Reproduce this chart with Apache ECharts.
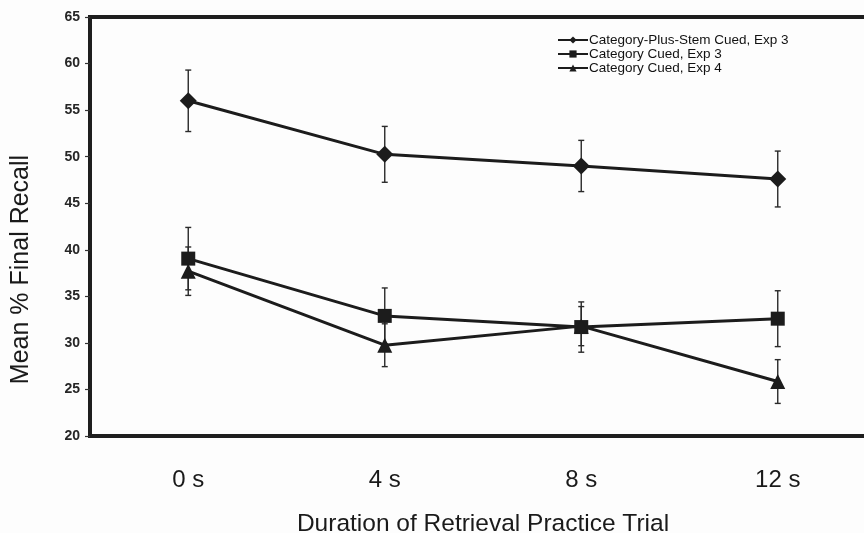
<!DOCTYPE html>
<html>
<head>
<meta charset="utf-8">
<script src="https://cdn.jsdelivr.net/npm/echarts@6/dist/echarts.min.js"></script>
<style>
html,body{margin:0;padding:0;background:#fdfdfd;overflow:hidden;width:864px;height:533px;}
#chart{width:876px;height:533px;}
</style>
</head>
<body>
<div id="chart"></div>
<script>
const categories = ['0 s', '4 s', '8 s', '12 s'];
const seriesNames = ['Category-Plus-Stem Cued, Exp 3', 'Category Cued, Exp 3', 'Category Cued, Exp 4'];
const stemExp3 = [56.0, 50.25, 49.0, 47.6];
const stemExp3Err = [3.3, 3.0, 2.75, 3.0];
const catExp3 = [39.05, 32.9, 31.7, 32.6];
const catExp3Err = [3.35, 3.0, 2.7, 3.0];
const catExp4 = [37.7, 29.75, 31.8, 25.85];
const catExp4Err = [2.6, 2.3, 2.1, 2.35];
const yTicks = [20, 25, 30, 35, 40, 45, 50, 55, 60, 65];

const FONT = '"Liberation Sans", Arial, sans-serif';
const INK = '#1c1c1c';

function errData(vals, errs) {
  return vals.map((v, i) => [i, v - errs[i], v + errs[i]]);
}
function errSeries(name, vals, errs) {
  return {
    type: 'custom',
    name: name,
    data: errData(vals, errs),
    encode: { x: 0, y: [1, 2] },
    z: 1,
    silent: true,
    renderItem: function (params, api) {
      const x = api.value(0);
      const lo = api.coord([x, api.value(1)]);
      const hi = api.coord([x, api.value(2)]);
      const w = 3;
      const st = { stroke: '#2a2a2a', lineWidth: 1.4 };
      return {
        type: 'group',
        children: [
          { type: 'line', shape: { x1: lo[0], y1: lo[1], x2: hi[0], y2: hi[1] }, style: st },
          { type: 'line', shape: { x1: lo[0] - w, y1: lo[1], x2: lo[0] + w, y2: lo[1] }, style: st },
          { type: 'line', shape: { x1: hi[0] - w, y1: hi[1], x2: hi[0] + w, y2: hi[1] }, style: st }
        ]
      };
    }
  };
}
function lineSeries(name, vals, symbol, size) {
  return {
    type: 'line',
    name: name,
    data: vals,
    symbol: symbol,
    symbolSize: size,
    z: 3,
    lineStyle: { color: INK, width: 3 },
    itemStyle: { color: INK, borderColor: INK, borderWidth: 0 },
    emphasis: { disabled: true }
  };
}

const chart = echarts.init(document.getElementById('chart'), null, { renderer: 'canvas' });
chart.setOption({
  backgroundColor: '#fdfdfd',
  animation: false,
  textStyle: { fontFamily: FONT },
  grid: {
    left: 90, top: 17, right: 0, bottom: 97,
    outerBoundsMode: 'none',
    containLabel: false,
    show: true, borderWidth: 4, borderColor: '#1e1e1e', backgroundColor: '#fdfdfd'
  },
  legend: {
    data: seriesNames,
    orient: 'vertical',
    left: 552, top: 28,
    itemWidth: 30, itemHeight: 9, itemGap: 0,
    textStyle: { fontFamily: FONT, fontSize: 13.5, color: '#111', lineHeight: 12, padding: [0, 0, 0, -4] },
    selectedMode: false
  },
  xAxis: {
    type: 'category',
    data: categories,
    boundaryGap: true,
    axisLine: { show: true, lineStyle: { color: '#1e1e1e', width: 4 } },
    axisTick: { show: false },
    axisLabel: { fontFamily: FONT, fontSize: 24, color: '#1a1a1a', margin: 32 },
    name: 'Duration of Retrieval Practice Trial',
    nameLocation: 'middle',
    nameGap: 76,
    nameTextStyle: { fontFamily: FONT, fontSize: 24.5, color: '#1a1a1a' }
  },
  yAxis: {
    type: 'value',
    min: 20, max: 65, interval: 5,
    axisLine: { show: true, lineStyle: { color: '#1e1e1e', width: 4 } },
    axisTick: { show: true, length: 5, lineStyle: { color: '#333', width: 1.2 } },
    splitLine: { show: false },
    axisLabel: {
      fontFamily: FONT, fontSize: 14, fontWeight: 'bold', color: '#262626', margin: 10,
      formatter: function (v) { return yTicks.indexOf(v) >= 0 ? String(v) : ''; }
    },
    name: 'Mean % Final Recall',
    nameLocation: 'middle',
    nameGap: 56,
    nameTextStyle: { fontFamily: FONT, fontSize: 25, color: '#1a1a1a', padding: [0, 86, 0, 0] }
  },
  series: [
    errSeries('err1', stemExp3, stemExp3Err),
    errSeries('err2', catExp3, catExp3Err),
    errSeries('err3', catExp4, catExp4Err),
    lineSeries(seriesNames[0], stemExp3, 'diamond', 17),
    lineSeries(seriesNames[1], catExp3, 'rect', 14),
    lineSeries(seriesNames[2], catExp4, 'triangle', 15)
  ]
});
</script>
</body>
</html>
